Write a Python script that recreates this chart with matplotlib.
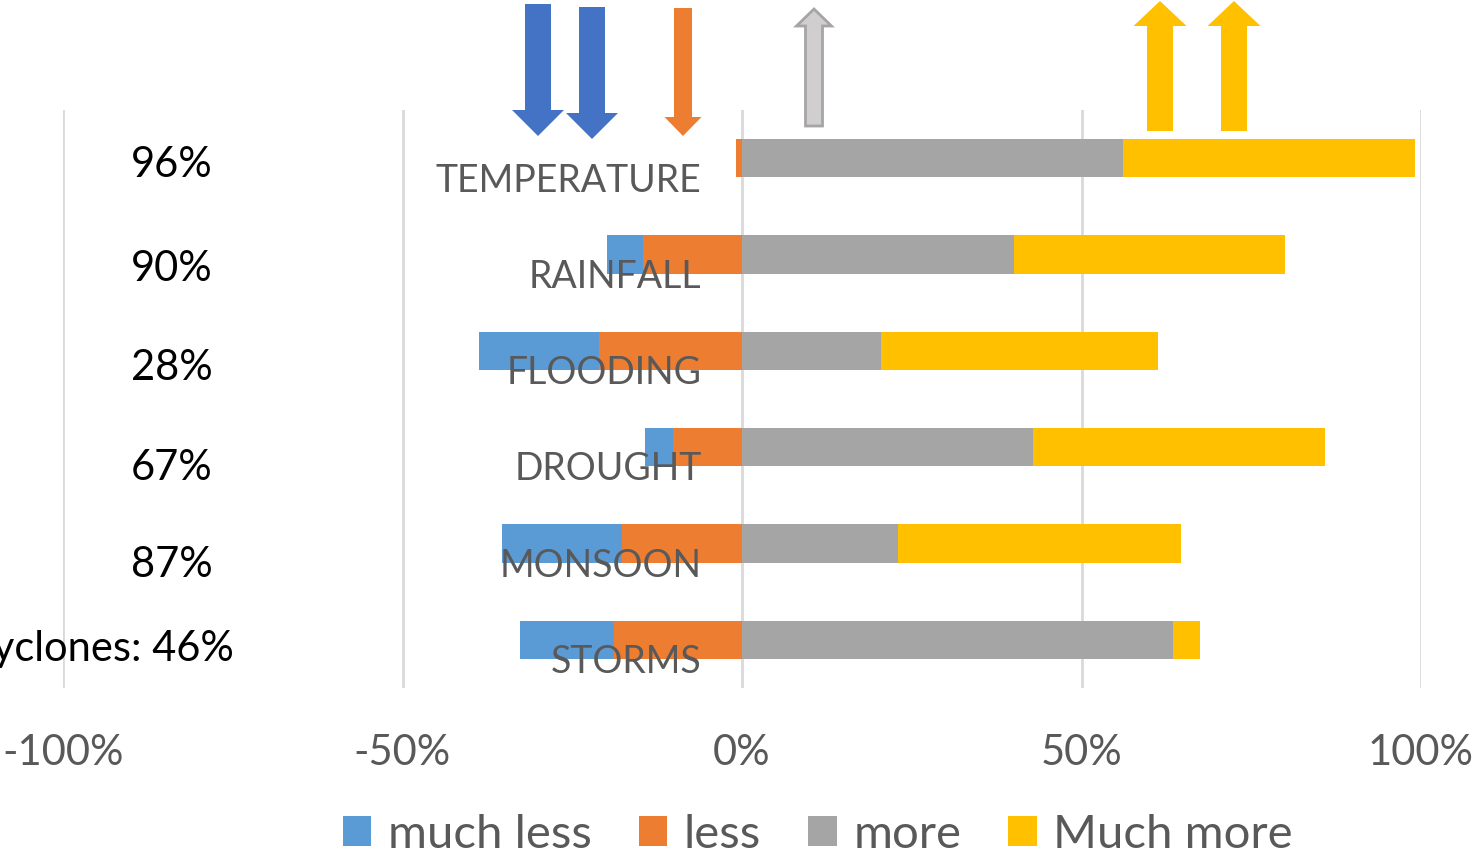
import numpy as np
import matplotlib.pyplot as plt
from matplotlib.patches import Patch, Polygon

plt.rcParams['font.family'] = ['Lato', 'DejaVu Sans']

# dados (percentagens)
categorias = ['TEMPERATURE', 'RAINFALL', 'FLOODING', 'DROUGHT', 'MONSOON', 'STORMS']
much_less = [0, 5.3, 17.8, 4.1, 17.7, 13.8]
less = [0.9, 14.6, 21.0, 10.2, 17.7, 18.9]
more = [56.1, 40.0, 20.5, 42.9, 23.0, 63.5]
much_more = [43.0, 40.0, 40.8, 43.0, 41.7, 4.0]
notas = ['96%', '90%', '28%', '67%', '87%', 'Cyclones: 46%']
notas_y = [0.07, 1.15, 2.18, 3.22, 4.22, 5.10]   # posicao vertical das notas (em linhas)

cores = {'much less': '#5B9BD5', 'less': '#ED7D31', 'more': '#A5A5A5', 'Much more': '#FFC000'}
cinza_txt = '#595959'

fig = plt.figure(figsize=(14.73, 8.58), dpi=100)
W, H = 1473, 858
ax = fig.add_axes([63 / W, 1 - 688 / H, (1421 - 63) / W, (688 - 110) / H])

y = np.arange(len(categorias))
ml = np.array(much_less)
le = np.array(less)
mo = np.array(more)
mm = np.array(much_more)
alt = 0.4
ax.barh(y, -le, height=alt, color=cores['less'], zorder=2)
ax.barh(y, -ml, left=-le, height=alt, color=cores['much less'], zorder=2)
ax.barh(y, mo, height=alt, color=cores['more'], zorder=2)
ax.barh(y, mm, left=mo, height=alt, color=cores['Much more'], zorder=2)

ax.set_xlim(-100, 100)
ax.set_ylim(len(categorias) - 0.5, -0.5)
ax.set_xticks([-100, -50, 0, 50, 100])
ax.set_xticklabels(['-100%', '-50%', '0%', '50%', '100%'])
ax.set_yticks([])
ax.tick_params(axis='x', length=0, pad=33, labelsize=30, labelcolor=cinza_txt)
ax.xaxis.grid(True, color='#D9D9D9', linewidth=2, zorder=0)
for s in ax.spines.values():
    s.set_visible(False)

# rotulos das categorias em cima das barras, junto do zero
for i, nome in enumerate(categorias):
    ax.annotate(nome, xy=(0, i), xytext=(-29, -24), textcoords='offset points',
                ha='right', va='baseline', fontsize=27, color=cinza_txt, zorder=5)

# notas a esquerda
for i, txt in enumerate(notas):
    if i == len(notas) - 1:
        ax.text(-74.8, notas_y[i], txt, ha='right', va='center', fontsize=30, color='black')
    else:
        ax.text(-84, notas_y[i], txt, ha='center', va='center', fontsize=30, color='black')

# setas decorativas (em pixels da figura)
ov = fig.add_axes([0, 0, 1, 1], zorder=3)
ov.set_xlim(0, W)
ov.set_ylim(H, 0)
ov.axis('off')

def seta(cx, topo, base_cab, ponta, larg_haste, larg_cab, cor, borda=None):
    # ponta pode estar acima ou abaixo; base_cab e onde a cabeca comeca
    hs = larg_haste / 2
    hc = larg_cab / 2
    pts = [(cx - hs, topo), (cx + hs, topo), (cx + hs, base_cab), (cx + hc, base_cab),
           (cx, ponta), (cx - hc, base_cab), (cx - hs, base_cab)]
    ov.add_patch(Polygon(pts, closed=True, facecolor=cor,
                         edgecolor=borda if borda else cor, linewidth=2 if borda else 0))

seta(538, 4, 110, 136, 26, 52, '#4472C4')
seta(592, 7, 113, 139, 26, 52, '#4472C4')
seta(683, 8, 117, 136, 18, 37, '#ED7D31')
seta(814, 126, 26, 9, 17, 35, '#D0CECE', '#A5A5A5')
seta(1160, 131, 26, 1, 26, 53, '#FFC000')
seta(1234, 131, 26, 1, 26, 53, '#FFC000')

handles = [Patch(facecolor=c, label=k) for k, c in cores.items()]
leg = fig.legend(handles=handles, loc='center', bbox_to_anchor=(818 / W, 1 - 835 / H),
                 ncol=4, frameon=False, fontsize=34, handlelength=0.6, handleheight=0.6,
                 handletextpad=0.35, columnspacing=1.0)
for t in leg.get_texts():
    t.set_color(cinza_txt)

fig.savefig('out.png', dpi=100)
